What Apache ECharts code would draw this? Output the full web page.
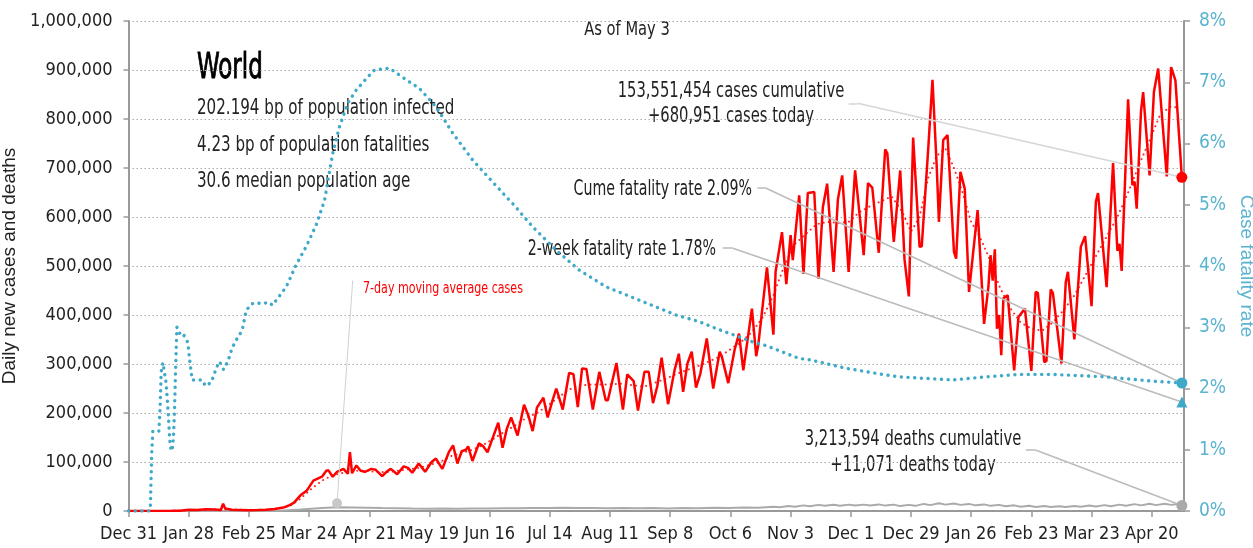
<!DOCTYPE html>
<html>
<head>
<meta charset="utf-8">
<script src="https://cdn.jsdelivr.net/npm/echarts@6/dist/echarts.min.js"></script>
<style>
  html, body { margin: 0; padding: 0; background: #fff; }
  #chart { width: 1253px; height: 548px; }
</style>
</head>
<body>
<div id="chart"></div>
<script>
// x values are days since Dec 31, 2019
const xTickDays = [0, 28, 56, 84, 112, 140, 168, 196, 224, 252, 280, 308, 336, 364, 392, 420, 448, 476];
const xTickLabels = ["Dec 31", "Jan 28", "Feb 25", "Mar 24", "Apr 21", "May 19", "Jun 16", "Jul 14", "Aug 11",
  "Sep 8", "Oct 6", "Nov 3", "Dec 1", "Dec 29", "Jan 26", "Feb 23", "Mar 23", "Apr 20"];

// daily new cases (solid red)
const dailyCases = [
  [0, 0], [20, 300], [24, 700], [28, 2600], [32, 2100], [36, 3800], [40, 3200], [43, 2000], [44, 15000], [45, 5000],
  [48, 2500], [52, 1900], [56, 1300], [60, 1800], [64, 2500], [68, 4000], [72, 7000], [75, 12000], [77, 17000],
  [80, 32000], [83, 42000], [86, 62000], [88, 66000], [90, 70000], [92, 82000], [93, 83000], [95, 70000],
  [97, 80000], [100, 86000], [102, 76000], [103, 120000], [104, 77000], [106, 93000], [108, 82000], [110, 80000],
  [113, 86000], [115, 84000], [118, 71000], [120, 80000], [122, 86000], [125, 75000], [128, 91000], [130, 88000],
  [132, 78000], [135, 97000], [138, 80000], [141, 100000], [143, 107000], [146, 86000], [149, 120000],
  [151, 134000], [153, 97000], [155, 122000], [157, 125000], [158, 132000], [160, 102000], [163, 138000],
  [165, 132000], [167, 120000], [169, 144000], [172, 180000], [174, 129000], [176, 168000], [178, 191000],
  [181, 154000], [184, 217000], [186, 195000], [188, 163000], [190, 211000], [193, 231000], [195, 191000],
  [197, 222000], [199, 250000], [200, 236000], [202, 207000], [205, 282000], [207, 279000], [209, 212000],
  [211, 291000], [213, 290000], [216, 207000], [219, 284000], [222, 226000], [223, 226000], [227, 302000],
  [230, 207000], [232, 279000], [235, 265000], [237, 205000], [240, 284000], [242, 284000], [244, 220000],
  [246, 255000], [248, 313000], [251, 218000], [254, 287000], [256, 321000], [258, 243000], [260, 301000],
  [262, 325000], [264, 252000], [266, 280000], [269, 352000], [272, 250000], [275, 325000], [276, 315000],
  [279, 261000], [282, 330000], [284, 362000], [286, 287000], [290, 413000], [292, 316000], [293, 340000],
  [297, 497000], [300, 360000], [301, 488000], [304, 569000], [306, 463000], [308, 563000], [309, 512000],
  [312, 644000], [314, 484000], [316, 649000], [319, 651000], [321, 474000], [323, 620000], [325, 668000],
  [328, 488000], [330, 636000], [332, 685000], [335, 488000], [338, 695000], [342, 522000], [344, 669000],
  [346, 660000], [349, 527000], [352, 738000], [353, 730000], [356, 549000], [359, 695000], [361, 513000],
  [363, 438000], [365, 762000], [368, 539000], [369, 540000], [372, 738000], [374, 880000], [376, 700000],
  [377, 590000], [379, 757000], [381, 767000], [384, 529000], [385, 515000], [387, 692000], [389, 658000],
  [391, 447000], [395, 614000], [398, 382000], [400, 457000], [401, 522000], [402, 470000], [403, 534000],
  [404, 372000], [405, 400000], [406, 318000], [407, 434000], [409, 440000], [412, 287000], [414, 396000],
  [417, 413000], [420, 286000], [422, 447000], [423, 445000], [426, 304000], [427, 306000], [429, 452000],
  [430, 445000], [434, 301000], [436, 467000], [437, 488000], [440, 350000], [443, 539000], [445, 561000],
  [448, 418000], [450, 631000], [451, 649000], [455, 457000], [458, 710000], [460, 531000], [461, 545000],
  [462, 490000], [465, 840000], [467, 665000], [468, 672000], [469, 617000], [471, 816000], [472, 855000],
  [475, 685000], [477, 855000], [479, 903000], [483, 683000], [485, 906000], [487, 879000], [490, 680951]
];

// 7-day moving average of cases (dotted red)
const avgCases = [
  [0, 0], [20, 200], [30, 2000], [40, 3000], [50, 3000], [60, 2000], [65, 3000], [70, 5000], [75, 10000],
  [80, 25000], [85, 45000], [90, 62000], [95, 73000], [100, 78000], [105, 82000], [110, 82000], [115, 80000],
  [120, 79000], [125, 82000], [130, 85000], [135, 88000], [140, 94000], [145, 100000], [150, 112000],
  [155, 118000], [160, 125000], [165, 135000], [170, 148000], [175, 162000], [180, 175000], [185, 190000],
  [190, 200000], [195, 215000], [200, 232000], [205, 248000], [210, 256000], [215, 258000], [220, 258000],
  [225, 259000], [230, 260000], [235, 256000], [240, 254000], [245, 262000], [250, 270000], [255, 280000],
  [260, 288000], [265, 296000], [270, 305000], [275, 315000], [280, 330000], [285, 345000], [290, 365000],
  [295, 395000], [300, 440000], [305, 500000], [310, 545000], [315, 565000], [320, 585000], [325, 590000],
  [330, 588000], [335, 590000], [340, 610000], [345, 622000], [350, 632000], [355, 642000], [360, 610000],
  [364, 570000], [368, 600000], [372, 680000], [376, 725000], [380, 740000], [384, 700000], [388, 650000],
  [392, 590000], [396, 560000], [400, 520000], [405, 460000], [410, 415000], [415, 385000], [420, 372000],
  [425, 368000], [430, 385000], [435, 410000], [440, 440000], [445, 480000], [450, 520000], [455, 560000],
  [460, 600000], [465, 650000], [470, 705000], [475, 757000], [480, 810000], [485, 826000], [488, 823000]
];

// daily new deaths (grey)
const dailyDeaths = [
  [0, 0], [50, 80], [60, 100], [70, 600], [80, 3000], [90, 6000], [97, 7600], [104, 7200], [111, 6800],
  [118, 6000], [125, 5600], [132, 5000], [139, 4800], [146, 5000], [153, 4800], [160, 5200], [167, 5000],
  [174, 5600], [181, 5800], [188, 6300], [195, 6000], [202, 6500], [209, 6000], [216, 6300], [223, 5600],
  [230, 6200], [237, 5400], [244, 6000], [251, 5300], [258, 6200], [265, 5600], [272, 6400], [279, 6000],
  [286, 7200], [293, 6800], [300, 8800], [303, 7500], [307, 10200], [310, 8500], [314, 11500], [317, 9500],
  [321, 12500], [324, 10500], [328, 12800], [331, 10500], [335, 13000], [338, 11000], [342, 13000],
  [345, 11000], [349, 13500], [352, 11000], [356, 13000], [359, 10000], [363, 12500], [366, 10500],
  [370, 14500], [373, 12000], [377, 16000], [380, 13000], [384, 15500], [387, 12500], [391, 14500],
  [394, 11500], [398, 13500], [401, 10500], [405, 12500], [408, 9500], [412, 11500], [415, 8500],
  [419, 10500], [422, 8000], [426, 10000], [429, 8000], [433, 9800], [436, 8200], [440, 10000], [443, 8600],
  [447, 11000], [450, 9000], [454, 12000], [457, 9500], [461, 13000], [464, 10500], [468, 14000],
  [471, 11500], [475, 14800], [478, 12000], [482, 15000], [485, 12500], [488, 14500], [490, 11071]
];

// cumulative case fatality rate, % (teal, right axis)
const fatalityRate = [
  [0, 0], [9.8, 0], [10.2, 0.1], [10.8, 0.94], [11.3, 1.3], [12.1, 1.3], [14.1, 1.3], [14.7, 1.68],
  [15.2, 2.27], [16, 2.42], [16.7, 2.43], [17.5, 2.09], [18.3, 1.7], [19.4, 1.05], [20.3, 0.98], [20.9, 1.2],
  [21.4, 1.65], [21.9, 2.3], [22.5, 3.0], [23.7, 2.9], [25, 2.92], [26.5, 2.82], [27.6, 2.75], [28.4, 2.49],
  [29.6, 2.14], [31.5, 2.14], [34.3, 2.14], [35.8, 2.04], [38.5, 2.1], [40.8, 2.33], [42.3, 2.44],
  [44.2, 2.31], [46.2, 2.44], [48.2, 2.66], [50.1, 2.79], [52.9, 2.95], [54.7, 3.27], [57.1, 3.38],
  [59.4, 3.4], [62.5, 3.38], [64.8, 3.41], [67.1, 3.36], [68.7, 3.44], [73.4, 3.66], [78, 4.02],
  [82.7, 4.32], [87.3, 4.67], [91.2, 5.07], [95, 5.84], [98.1, 6.27], [102, 6.66], [105.9, 6.87],
  [110.6, 7.06], [114.4, 7.2], [121.4, 7.23], [129.2, 7.04], [135.3, 6.9], [143.1, 6.6], [150.8, 6.17],
  [160.1, 5.73], [175.7, 5.13], [178.7, 5.02], [188, 4.64], [198.9, 4.26], [209.8, 3.93], [222.2, 3.66],
  [237.7, 3.44], [254.7, 3.2], [265.6, 3.09], [273.3, 2.98], [290.4, 2.76], [296.6, 2.7], [312, 2.49],
  [316.7, 2.47], [333.8, 2.33], [352.4, 2.22], [358.6, 2.19], [368, 2.17], [383.4, 2.14], [398.9, 2.19],
  [414.4, 2.23], [429.8, 2.23], [454.7, 2.19], [476.4, 2.12], [490, 2.09]
];

const twoWeekRate = 1.78;

const NARROW = "'Liberation Sans Narrow', 'DejaVu Sans Condensed', 'Arial Narrow', sans-serif";
const REGULAR = "'Liberation Sans', Arial, sans-serif";
const TEAL = "#3fa9c8";
const TEAL_TEXT = "#5ab3cf";

const lastCase = dailyCases[dailyCases.length - 1];
const lastDeath = dailyDeaths[dailyDeaths.length - 1];
const lastRate = fatalityRate[fatalityRate.length - 1];
const lastDay = lastCase[0];

const chart = echarts.init(document.getElementById("chart"));

function leader(points) {
  const out = [];
  for (let i = 0; i < points.length - 1; i++) {
    out.push([{ coord: points[i] }, { coord: points[i + 1] }]);
  }
  return out;
}

function endDot(coord, color, symbol) {
  return {
    coord: coord,
    symbol: symbol || "circle",
    symbolSize: 11,
    itemStyle: { color: color },
    label: { show: false }
  };
}

// squeezed annotation text (the condensed face is still wider than the original)
function note(x, y, text, size, align, sx, color, strokeW) {
  const style = {
    text: text, font: size + "px " + NARROW,
    fill: color || "#222", align: align, verticalAlign: "middle"
  };
  if (strokeW) {
    style.stroke = color;
    style.lineWidth = strokeW;
  }
  return { type: "text", x: x, y: y, scaleX: sx, style: style };
}

chart.setOption({
  animation: false,
  grid: { left: 128.5, right: 69, top: 21, bottom: 37, outerBoundsMode: "none", containLabel: false },
  xAxis: {
    type: "value",
    min: 0,
    max: 491,
    axisLine: { lineStyle: { color: "#999", width: 2 } },
    axisTick: { customValues: xTickDays, length: 6, lineStyle: { color: "#999", width: 1.5 } },
    axisLabel: {
      customValues: xTickDays,
      margin: 14,
      showMinLabel: true,
      showMaxLabel: true,
      hideOverlap: false,
      fontFamily: NARROW,
      fontSize: 18,
      color: "#222",
      formatter: v => xTickLabels[xTickDays.indexOf(v)] || ""
    },
    splitLine: { show: false }
  },
  yAxis: [
    {
      type: "value",
      min: 0,
      max: 1000000,
      interval: 100000,
      name: "Daily new cases and deaths",
      nameLocation: "middle",
      nameGap: 90,
      nameTextStyle: { fontFamily: REGULAR, fontSize: 19, color: "#222" },
      axisLine: { show: true, lineStyle: { color: "#999", width: 2 } },
      axisTick: { show: true, length: 5, lineStyle: { color: "#999", width: 1.5 } },
      axisLabel: {
        margin: 16,
        fontFamily: NARROW,
        fontSize: 18,
        color: "#222",
        formatter: v => v.toLocaleString("en-US")
      },
      splitLine: { lineStyle: { color: "#aaa", type: [1.5, 2.5], width: 1 } }
    },
    {
      type: "value",
      position: "right",
      min: 0,
      max: 8,
      interval: 1,
      name: "Case fatality rate",
      nameLocation: "middle",
      nameRotate: -90,
      nameGap: 42,
      nameTextStyle: { fontFamily: REGULAR, fontSize: 19, color: TEAL_TEXT },
      axisLine: { show: true, lineStyle: { color: "#999", width: 2 } },
      axisTick: { show: true, length: 6, lineStyle: { color: "#999", width: 1.5 } },
      axisLabel: {
        margin: 15,
        fontFamily: NARROW,
        fontSize: 19,
        color: TEAL_TEXT,
        formatter: "{value}%"
      },
      splitLine: { show: false }
    }
  ],
  series: [
    {
      name: "deaths",
      type: "line",
      data: dailyDeaths,
      showSymbol: false,
      lineStyle: { color: "#aaa", width: 2 },
      markPoint: { silent: true, data: [endDot(lastDeath, "#aaa")] },
      markLine: {
        silent: true,
        symbol: "none",
        label: { show: false },
        lineStyle: { color: "#bbb", width: 1.5, type: "solid" },
        data: leader([[417.5, 124000], [422.2, 124000], lastDeath])
      },
      z: 2
    },
    {
      name: "avg",
      type: "line",
      data: avgCases,
      showSymbol: false,
      lineStyle: { color: "#ff2a2a", width: 2, type: [0.1, 5], cap: "round" },
      markPoint: {
        silent: true,
        data: [{ coord: [97, 15700], symbol: "circle", symbolSize: 10, itemStyle: { color: "#c8c8c8" }, label: { show: false } }]
      },
      markLine: {
        silent: true,
        symbol: "none",
        label: { show: false },
        lineStyle: { color: "#d0d0d0", width: 1, type: "solid" },
        data: leader([[104.3, 470000], [97, 15700]])
      },
      z: 3
    },
    {
      name: "cases",
      type: "line",
      data: dailyCases,
      showSymbol: false,
      lineStyle: { color: "#ff0000", width: 2.5 },
      markPoint: { silent: true, data: [endDot(lastCase, "#ff0000")] },
      markLine: {
        silent: true,
        symbol: "none",
        label: { show: false },
        lineStyle: { color: "#d6d6d6", width: 1.5, type: "solid" },
        data: leader([[335, 832000], [339.2, 832000], lastCase])
      },
      z: 4
    },
    {
      name: "rate",
      type: "line",
      yAxisIndex: 1,
      data: fatalityRate,
      showSymbol: false,
      lineStyle: { color: TEAL, width: 3.4, type: [0.1, 6.6], cap: "round" },
      markPoint: {
        silent: true,
        data: [endDot(lastRate, TEAL), endDot([lastDay, twoWeekRate], TEAL, "triangle")]
      },
      markLine: {
        silent: true,
        symbol: "none",
        label: { show: false },
        lineStyle: { color: "#bbb", width: 1.5, type: "solid" },
        data: leader([[292.6, 5.27], [296.6, 5.27], lastRate])
          .concat(leader([[276.4, 4.29], [281.1, 4.29], [lastDay, twoWeekRate]]))
      },
      z: 5
    }
  ],
  graphic: [
    note(197, 69, "World", 36, "left", 0.71, "#000", 0.9),
    note(197, 109, "202.194 bp of population infected", 21, "left", 0.8),
    note(197, 146, "4.23 bp of population fatalities", 21, "left", 0.8),
    note(197, 182, "30.6 median population age", 21, "left", 0.8),
    note(627, 30, "As of May 3", 19, "center", 0.86),
    note(731, 92, "153,551,454 cases cumulative", 21, "center", 0.78),
    note(731, 117, "+680,951 cases today", 21, "center", 0.78),
    note(752, 190, "Cume fatality rate 2.09%", 21, "right", 0.75),
    note(716, 250, "2-week fatality rate 1.78%", 21, "right", 0.75),
    note(913, 440, "3,213,594 deaths cumulative", 21, "center", 0.78),
    note(913, 466, "+11,071 deaths today", 21, "center", 0.78),
    note(363, 289, "7-day moving average cases", 16, "left", 0.77, "#ff0000")
  ]
});
</script>
</body>
</html>
